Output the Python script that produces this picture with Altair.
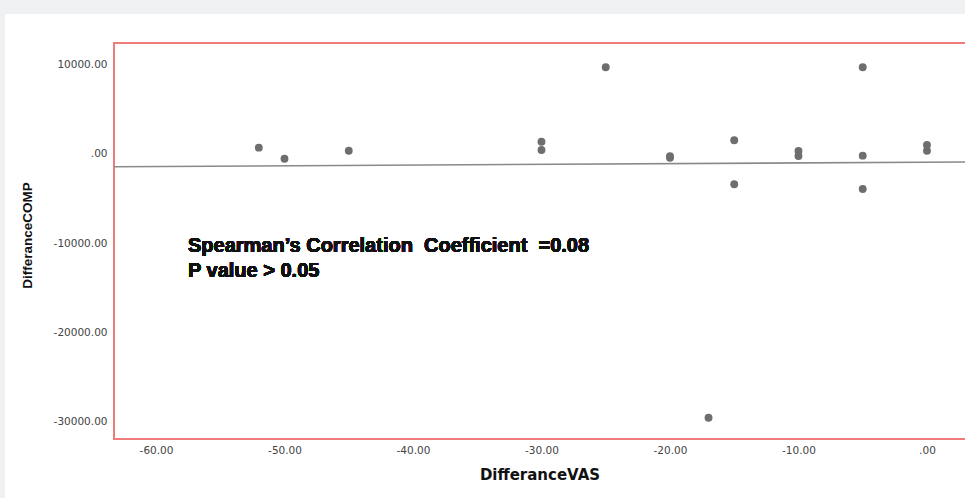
import altair as alt
import pandas as pd

# ---- data ----
vas_diff = [-52, -50, -45, -30, -30, -25, -20, -20, -17, -15, -15,
            -10, -10, -5, -5, -5, 0, 0]
comp_diff = [710, -530, 370, 1380, 450, 9740, -250, -420, -29630, 1540, -3400,
             340, -220, 9740, -190, -3930, 1010, 370]

fit_x = [-63.27, 2.96]
fit_y = [-1430, -900]

x_ticks = [-60, -50, -40, -30, -20, -10, 0]
y_ticks = [10000, 0, -10000, -20000, -30000]

annotation_lines = ["Spearman\u2019s Correlation\u00a0 Coefficient\u00a0 =0.08",
                    "P value > 0.05"]

x_domain = [-63.27, 2.96]
y_domain = [-32020, 12470]

W, H = 851, 396

pts = pd.DataFrame({"DifferanceVAS": vas_diff, "DifferanceCOMP": comp_diff})
fit = pd.DataFrame({"DifferanceVAS": fit_x, "DifferanceCOMP": fit_y})

label_expr = ("(datum.value < 0 ? '-' : '') + (datum.value == 0 ? '.00' : "
              "format(abs(datum.value), '.2f'))")

x_enc = alt.X(
    "DifferanceVAS:Q",
    scale=alt.Scale(domain=x_domain, nice=False, zero=False),
    axis=alt.Axis(
        values=x_ticks, labelExpr=label_expr, title="DifferanceVAS",
        domain=False, ticks=False, grid=False, labelPadding=6,
        labelFont="DejaVu Sans", labelFontSize=10.5, labelColor="#444444",
        titleFont="DejaVu Sans", titleFontSize=15, titleFontWeight="bold",
        titleColor="#111111", titlePadding=12, zindex=1,
    ),
)
y_enc = alt.Y(
    "DifferanceCOMP:Q",
    scale=alt.Scale(domain=y_domain, nice=False, zero=False),
    axis=alt.Axis(
        values=y_ticks, labelExpr=label_expr, title="DifferanceCOMP",
        domain=False, ticks=False, grid=False, labelPadding=7,
        labelFont="DejaVu Sans", labelFontSize=10.5, labelColor="#444444",
        titleFont="Liberation Sans", titleFontSize=13.5, titleFontWeight="bold",
        titleColor="#111111", titlePadding=19, titleY=192, zindex=1,
    ),
)

base = alt.Chart(pts)

panel = base.mark_rect(color="white").encode(
    x=alt.value(-109), x2=alt.value(W + 40),
    y=alt.value(-29), y2=alt.value(H + 80),
)

frame = base.mark_rect(fill=None, stroke="#ef7b7b", strokeWidth=2).encode(
    x=alt.value(0), x2=alt.value(W + 20),
    y=alt.value(0), y2=alt.value(H),
)

fit_line = alt.Chart(fit).mark_line(color="#8a8a8a", strokeWidth=1.6).encode(
    x=x_enc, y=y_enc
)

points = base.mark_circle(color="#6e6e6e", opacity=1, size=62).encode(
    x=x_enc, y=y_enc
)

note = base.mark_text(
    align="left", baseline="alphabetic", font="Liberation Sans",
    fontSize=20, fontWeight="bold", color="#111111",
    lineBreak="\n", lineHeight=25,
).encode(
    x=alt.value(74), y=alt.value(209),
    text=alt.value("\n".join(annotation_lines)),
)

chart = alt.layer(panel, frame, fit_line, points, note).properties(
    width=W, height=H,
    autosize=alt.AutoSizeParams(type="none"),
    padding={"left": 114, "top": 43, "right": 0, "bottom": 59},
    background="#eff0f2",
).configure_view(stroke=None)

chart.save("out.html", embed_options={"renderer": "svg", "actions": False})
